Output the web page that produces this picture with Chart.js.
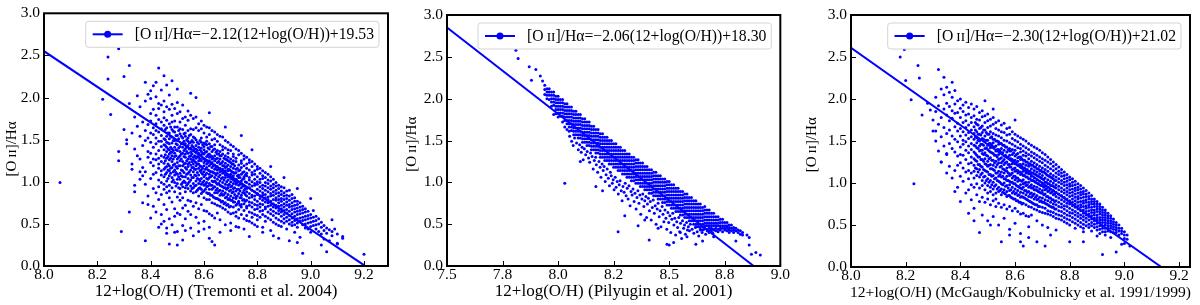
<!DOCTYPE html>
<html>
<head>
<meta charset="utf-8">
<script src="https://cdn.jsdelivr.net/npm/chart.js@4.4.1/dist/chart.umd.min.js"></script>
<style>
  body { margin: 0; background: #fff; width: 1200px; height: 305px; overflow: hidden; position: relative; }
  .panel { position: absolute; top: 0; height: 305px; }
</style>
</head>
<body>
<div class="panel" style="left:0;width:392px"><canvas id="chart-tremonti"></canvas></div>
<div class="panel" style="left:400px;width:390px"><canvas id="chart-pilyugin"></canvas></div>
<div class="panel" style="left:800px;width:400px"><canvas id="chart-mcgaugh"></canvas></div>
<script>
// tick values / labels
const yTicks = [0, 0.5, 1.0, 1.5, 2.0, 2.5, 3.0];
const tremontiTicks = [8.0, 8.2, 8.4, 8.6, 8.8, 9.0, 9.2];
const pilyuginTicks = [7.5, 7.75, 8.0, 8.25, 8.5, 8.75, 9.0];
const pilyuginTickLabels = ['7.5', '7.8', '8.0', '8.2', '8.5', '8.8', '9.0'];
const mcgaughTicks = [8.0, 8.2, 8.4, 8.6, 8.8, 9.0, 9.2];

const legendTexts = [
    '[O\u2009ɪɪ]/Hα=−2.12(12+log(O/H))+19.53',
    '[O\u2009ɪɪ]/Hα=−2.06(12+log(O/H))+18.30',
    '[O\u2009ɪɪ]/Hα=−2.30(12+log(O/H))+21.02',
];
const xTitles = [
    '12+log(O/H) (Tremonti et al. 2004)',
    '12+log(O/H) (Pilyugin et al. 2001)',
    '12+log(O/H) (McGaugh/Kobulnicky et al. 1991/1999)',
];
const yTitle = '[O\u2009ɪɪ]/Hα';

// fitted lines, end points
const tremontiFit = [[8.0, 2.55], [9.2, 0.01]];
const pilyuginFit = [[7.5, 2.85], [8.88, 0.0]];
const mcgaughFit = [[8.0, 2.61], [9.135, 0.0]];

// scatter, column form: [x, y, y, ...]
const tremontiCols = [
    [8.33, 1.58, 1.21], [8.34, 1.77, 1.39, 0.96], [8.35, 1.66, 1.31], [8.36, 1.89, 1.54, 1.27, 1.03],
    [8.37, 1.71, 1.43, 1.17, 0.75], [8.38, 1.96, 1.61, 1.49, 1.12, 0.97], [8.39, 2.04, 1.68, 1.52, 1.36, 1.29, 0.83],
    [8.40, 1.99, 1.81, 1.72, 1.58, 1.47, 1.34, 1.23, 1.04, 0.57],
    [8.41, 2.14, 1.86, 1.64, 1.56, 1.41, 1.27, 1.19, 1.09, 0.92, 0.71],
    [8.42, 2.01, 1.79, 1.69, 1.61, 1.52, 1.45, 1.33, 1.26, 1.11, 0.87, 0.64],
    [8.43, 1.93, 1.87, 1.74, 1.59, 1.48, 1.37, 1.28, 1.21, 1.16, 1.02, 0.94, 0.79, 0.46],
    [8.44, 2.09, 1.91, 1.71, 1.63, 1.55, 1.48, 1.42, 1.31, 1.24, 1.13, 1.08, 0.99, 0.85, 0.61],
    [8.45, 1.96, 1.83, 1.76, 1.67, 1.51, 1.44, 1.38, 1.29, 1.22, 1.15, 1.06, 0.97, 0.91, 0.73, 0.53],
    [8.46, 1.89, 1.73, 1.64, 1.54, 1.47, 1.41, 1.36, 1.28, 1.18, 1.11, 1.01, 0.94, 0.87, 0.67, 0.39],
    [8.47, 2.03, 1.86, 1.69, 1.58, 1.51, 1.45, 1.38, 1.33, 1.26, 1.19, 1.13, 1.07, 0.96, 0.89, 0.81, 0.56],
    [8.48, 1.92, 1.79, 1.71, 1.62, 1.53, 1.46, 1.39, 1.35, 1.31, 1.24, 1.17, 1.05, 1.00, 0.93, 0.76, 0.49],
    [8.49, 1.87, 1.72, 1.65, 1.59, 1.49, 1.41, 1.34, 1.30, 1.21, 1.14, 1.08, 0.99, 0.88, 0.68, 0.59],
    [8.50, 1.94, 1.81, 1.65, 1.55, 1.49, 1.44, 1.37, 1.27, 1.23, 1.16, 1.09, 1.03, 0.98, 0.82, 0.63, 0.41],
    [8.51, 1.83, 1.71, 1.63, 1.57, 1.42, 1.36, 1.31, 1.25, 1.19, 1.10, 1.03, 0.92, 0.86, 0.78, 0.61],
    [8.52, 1.91, 1.75, 1.62, 1.52, 1.46, 1.41, 1.34, 1.24, 1.19, 1.13, 1.06, 0.99, 0.94, 0.81, 0.69, 0.48],
    [8.53, 1.77, 1.67, 1.58, 1.54, 1.45, 1.39, 1.33, 1.29, 1.22, 1.17, 1.06, 0.99, 0.93, 0.88, 0.72, 0.56],
    [8.54, 1.84, 1.73, 1.61, 1.52, 1.48, 1.43, 1.34, 1.27, 1.21, 1.18, 1.10, 1.04, 0.98, 0.92, 0.78, 0.65],
    [8.55, 1.79, 1.63, 1.56, 1.47, 1.40, 1.35, 1.31, 1.27, 1.20, 1.14, 1.08, 1.02, 0.95, 0.89, 0.77, 0.61, 0.45],
    [8.56, 1.75, 1.62, 1.53, 1.47, 1.41, 1.37, 1.29, 1.26, 1.21, 1.17, 1.12, 1.05, 0.98, 0.93, 0.87, 0.71],
    [8.57, 1.77, 1.64, 1.50, 1.43, 1.39, 1.35, 1.28, 1.23, 1.19, 1.15, 1.07, 1.01, 0.96, 0.88, 0.75, 0.58],
    [8.58, 1.69, 1.61, 1.45, 1.41, 1.34, 1.29, 1.25, 1.21, 1.16, 1.08, 1.03, 0.98, 0.92, 0.83, 0.68, 0.51],
    [8.59, 1.72, 1.63, 1.52, 1.47, 1.40, 1.36, 1.32, 1.25, 1.18, 1.14, 1.11, 1.04, 0.97, 0.91, 0.86, 0.73],
    [8.60, 1.67, 1.58, 1.46, 1.42, 1.38, 1.33, 1.27, 1.23, 1.19, 1.12, 1.06, 1.01, 0.96, 0.89, 0.81, 0.66, 0.53],
    [8.61, 1.65, 1.53, 1.48, 1.44, 1.36, 1.30, 1.25, 1.21, 1.17, 1.10, 1.04, 0.99, 0.94, 0.87, 0.79, 0.65],
    [8.62, 1.64, 1.56, 1.45, 1.39, 1.33, 1.29, 1.25, 1.19, 1.13, 1.09, 1.05, 0.98, 0.91, 0.86, 0.79, 0.62, 0.46],
    [8.63, 1.61, 1.50, 1.42, 1.36, 1.30, 1.27, 1.23, 1.17, 1.12, 1.07, 1.01, 0.96, 0.91, 0.84, 0.75, 0.60],
    [8.64, 1.59, 1.51, 1.44, 1.39, 1.31, 1.25, 1.20, 1.15, 1.10, 1.05, 1.01, 0.94, 0.87, 0.81, 0.74, 0.57],
    [8.65, 1.56, 1.48, 1.37, 1.33, 1.28, 1.23, 1.18, 1.14, 1.10, 1.03, 0.97, 0.92, 0.87, 0.80, 0.72, 0.63],
    [8.66, 1.54, 1.44, 1.36, 1.31, 1.27, 1.21, 1.16, 1.12, 1.08, 1.01, 0.96, 0.90, 0.84, 0.78, 0.71, 0.55],
    [8.67, 1.53, 1.42, 1.38, 1.33, 1.24, 1.19, 1.15, 1.10, 1.05, 0.99, 0.94, 0.89, 0.84, 0.77, 0.69],
    [8.68, 1.49, 1.40, 1.31, 1.27, 1.22, 1.17, 1.13, 1.08, 1.05, 0.97, 0.93, 0.87, 0.81, 0.75, 0.67, 0.49],
    [8.69, 1.47, 1.38, 1.34, 1.29, 1.25, 1.20, 1.15, 1.13, 1.06, 1.02, 0.96, 0.93, 0.85, 0.79, 0.73, 0.64],
    [8.70, 1.44, 1.37, 1.27, 1.23, 1.18, 1.13, 1.09, 1.04, 1.00, 0.94, 0.90, 0.83, 0.78, 0.71, 0.62, 0.51],
    [8.71, 1.42, 1.33, 1.30, 1.25, 1.21, 1.16, 1.11, 1.07, 1.02, 0.98, 0.92, 0.88, 0.81, 0.76, 0.70, 0.63],
    [8.72, 1.39, 1.28, 1.24, 1.15, 1.11, 1.03, 0.99, 0.97, 0.89, 0.82, 0.80, 0.72, 0.64, 0.59],
    [8.73, 1.37, 1.32, 1.20, 1.13, 1.08, 1.05, 0.96, 0.91, 0.86, 0.77, 0.75, 0.67, 0.57, 0.46],
    [8.74, 1.34, 1.25, 1.22, 1.17, 1.09, 1.01, 0.98, 0.93, 0.84, 0.81, 0.73, 0.70, 0.61],
    [8.75, 1.31, 1.27, 1.19, 1.12, 1.06, 1.04, 0.95, 0.90, 0.87, 0.79, 0.74, 0.66, 0.56],
    [8.76, 1.29, 1.21, 1.16, 1.10, 1.07, 0.99, 0.92, 0.88, 0.83, 0.78, 0.71, 0.69, 0.60, 0.54],
    [8.77, 1.26, 1.23, 1.14, 1.05, 1.02, 0.97, 0.93, 0.86, 0.81, 0.76, 0.72, 0.64, 0.53],
    [8.78, 1.24, 1.18, 1.11, 1.08, 1.00, 0.95, 0.90, 0.84, 0.82, 0.75, 0.70, 0.63, 0.58, 0.51],
    [8.79, 1.21, 1.13, 1.09, 1.03, 0.98, 0.96, 0.88, 0.83, 0.79, 0.73, 0.67, 0.61, 0.49],
    [8.80, 1.18, 1.15, 1.06, 1.00, 0.97, 0.91, 0.86, 0.85, 0.77, 0.72, 0.68, 0.60, 0.55, 0.47],
    [8.81, 1.16, 1.10, 1.03, 0.99, 0.94, 0.89, 0.83, 0.80, 0.74, 0.70, 0.65, 0.58],
    [8.82, 1.13, 1.07, 1.04, 0.96, 0.92, 0.87, 0.84, 0.78, 0.73, 0.66, 0.61, 0.46],
    [8.83, 1.11, 1.05, 0.99, 0.95, 0.90, 0.85, 0.81, 0.76, 0.70, 0.68, 0.59, 0.53],
    [8.84, 1.09, 1.02, 0.98, 0.93, 0.88, 0.82, 0.79, 0.75, 0.71, 0.64, 0.57],
    [8.85, 1.06, 1.01, 0.95, 0.91, 0.86, 0.83, 0.77, 0.72, 0.67, 0.62, 0.55, 0.42],
    [8.86, 1.03, 0.97, 0.93, 0.88, 0.84, 0.79, 0.74, 0.70, 0.65, 0.60, 0.52],
    [8.87, 0.99, 0.95, 0.90, 0.86, 0.81, 0.78, 0.72, 0.69, 0.63, 0.57, 0.50],
    [8.88, 0.96, 0.92, 0.87, 0.83, 0.79, 0.75, 0.71, 0.66, 0.62, 0.55, 0.48],
    [8.89, 0.94, 0.89, 0.85, 0.80, 0.77, 0.72, 0.68, 0.64, 0.59, 0.53, 0.47],
    [8.90, 0.93, 0.87, 0.83, 0.79, 0.74, 0.70, 0.66, 0.61, 0.56, 0.51],
    [8.91, 0.89, 0.84, 0.80, 0.76, 0.72, 0.67, 0.63, 0.58, 0.53, 0.44],
    [8.92, 0.90, 0.83, 0.78, 0.73, 0.70, 0.65, 0.60, 0.55, 0.50],
    [8.93, 0.85, 0.80, 0.75, 0.71, 0.67, 0.62, 0.57, 0.52, 0.48],
    [8.94, 0.81, 0.77, 0.72, 0.68, 0.64, 0.59, 0.54, 0.49, 0.40],
    [8.95, 0.77, 0.73, 0.69, 0.65, 0.61, 0.56, 0.51, 0.46],
    [8.96, 0.75, 0.70, 0.66, 0.62, 0.57, 0.53, 0.34], [8.97, 0.71, 0.67, 0.63, 0.58, 0.54, 0.49],
    [8.98, 0.68, 0.64, 0.59, 0.55, 0.50, 0.45], [8.99, 0.65, 0.60, 0.56, 0.51, 0.44],
    [9.00, 0.61, 0.57, 0.52, 0.47, 0.40], [9.01, 0.66, 0.58, 0.53, 0.48], [9.02, 0.59, 0.54, 0.49, 0.44],
    [9.03, 0.56, 0.50, 0.41], [9.04, 0.52, 0.46, 0.38], [9.05, 0.48, 0.42, 0.32], [9.06, 0.45, 0.39],
    [9.07, 0.43, 0.30], [9.08, 0.41, 0.36], [9.09, 0.44], [9.10, 0.38, 0.26], [9.12, 0.33],
];
// the dense middle of the cloud, between the columns above
const tremontiCore = [
    [8.455, 1.62, 1.50, 1.43, 1.32, 1.25, 1.17, 1.09], [8.465, 1.58, 1.46, 1.39, 1.30, 1.21, 1.14, 1.04],
    [8.475, 1.65, 1.54, 1.41, 1.35, 1.28, 1.16, 1.10], [8.485, 1.60, 1.49, 1.37, 1.27, 1.20, 1.12, 1.02],
    [8.495, 1.55, 1.45, 1.38, 1.31, 1.18, 1.11, 0.95], [8.505, 1.61, 1.51, 1.40, 1.29, 1.19, 1.06, 0.93],
    [8.515, 1.54, 1.45, 1.33, 1.27, 1.14, 1.07, 0.97], [8.525, 1.57, 1.48, 1.37, 1.30, 1.21, 1.11, 1.01],
    [8.535, 1.50, 1.41, 1.36, 1.25, 1.15, 1.09, 0.96], [8.545, 1.55, 1.46, 1.39, 1.30, 1.23, 1.12, 1.00],
    [8.555, 1.49, 1.43, 1.33, 1.24, 1.17, 1.05, 0.92], [8.565, 1.52, 1.39, 1.31, 1.24, 1.15, 1.08, 0.95],
    [8.575, 1.47, 1.37, 1.30, 1.21, 1.11, 1.04, 0.90], [8.585, 1.49, 1.38, 1.27, 1.19, 1.13, 1.01, 0.93],
    [8.595, 1.44, 1.34, 1.28, 1.16, 1.09, 0.99, 0.88], [8.605, 1.45, 1.35, 1.25, 1.15, 1.08, 0.97, 0.91],
    [8.615, 1.40, 1.32, 1.23, 1.14, 1.03, 0.95, 0.86], [8.625, 1.42, 1.31, 1.21, 1.12, 1.06, 0.96, 0.84],
    [8.635, 1.38, 1.28, 1.19, 1.11, 1.00, 0.93, 0.82], [8.645, 1.35, 1.27, 1.17, 1.08, 0.99, 0.90, 0.80],
    [8.655, 1.33, 1.24, 1.15, 1.06, 0.98, 0.89, 0.79], [8.665, 1.31, 1.22, 1.13, 1.04, 0.95, 0.86, 0.76],
    [8.675, 1.28, 1.19, 1.11, 1.02, 0.93, 0.85, 0.74], [8.685, 1.26, 1.18, 1.08, 1.00, 0.91, 0.82, 0.72],
    [8.695, 1.24, 1.15, 1.06, 0.97, 0.89, 0.80, 0.70], [8.705, 1.21, 1.12, 1.04, 0.95, 0.87, 0.78],
    [8.715, 1.19, 1.10, 1.01, 0.93, 0.85, 0.76], [8.725, 1.16, 1.07, 0.99, 0.91, 0.83, 0.74],
    [8.735, 1.14, 1.05, 0.97, 0.89, 0.81, 0.72], [8.745, 1.11, 1.03, 0.95, 0.87, 0.78],
    [8.755, 1.08, 1.00, 0.92, 0.85, 0.77],
];
const tremontiExtra = [
    [8.06, 0.99], [8.22, 1.98], [8.24, 2.48], [8.24, 2.22], [8.25, 1.80], [8.28, 2.58], [8.28, 1.36], [8.28, 1.25],
    [8.29, 0.41], [8.30, 2.25], [8.30, 1.62], [8.31, 1.50], [8.31, 1.45], [8.32, 0.64], [8.32, 2.38], [8.33, 1.15],
    [8.32, 1.93], [8.34, 0.88], [8.35, 2.02], [8.36, 1.12], [8.37, 1.07], [8.38, 0.30], [8.38, 2.18], [8.39, 0.73],
    [8.40, 2.08], [8.42, 2.18], [8.43, 2.35], [8.45, 2.26], [8.48, 2.20], [8.47, 0.26], [8.50, 0.25], [8.52, 0.31],
    [8.57, 2.00], [8.62, 0.33], [8.63, 0.29], [8.64, 0.25], [8.77, 0.35], [8.78, 1.38], [8.97, 0.15], [9.06, 0.17],
    [9.10, 0.27], [9.12, 0.35], [9.20, 0.14], [8.44, 0.50], [8.46, 0.45], [8.49, 0.40], [8.53, 0.42], [8.56, 0.36],
    [8.58, 0.41], [8.60, 0.44], [8.66, 0.40], [8.70, 0.42], [8.72, 0.47], [8.75, 0.44], [8.82, 0.40], [8.86, 0.36],
    [8.88, 0.33], [8.92, 0.30], [8.95, 0.28], [9.04, 0.25], [8.55, 2.05], [8.50, 2.10], [8.46, 2.15], [8.62, 1.82],
    [8.68, 1.65], [8.74, 1.55], [8.85, 1.18], [8.90, 1.05], [8.95, 0.92], [9.00, 0.80], [9.08, 0.55],
];

// Pilyugin: solid upper band
const pilyuginCols = [
    [7.94, 2.16, 2.11, 2.05], [7.95, 2.12, 2.08, 2.04, 2.00], [7.96, 2.12, 2.08, 2.04, 1.99],
    [7.97, 2.08, 2.04, 2.00, 1.96, 1.91], [7.98, 2.08, 2.04, 2.00, 1.96, 1.92], [7.99, 2.03, 1.99, 1.95, 1.91, 1.87, 1.82],
    [8.00, 2.03, 1.99, 1.95, 1.91, 1.87, 1.83, 1.78], [8.01, 1.99, 1.95, 1.91, 1.87, 1.83, 1.79],
    [8.02, 1.99, 1.95, 1.91, 1.87, 1.83, 1.79, 1.72], [8.03, 1.94, 1.90, 1.86, 1.82, 1.78, 1.74, 1.66],
    [8.04, 1.94, 1.90, 1.86, 1.82, 1.78, 1.74, 1.70, 1.63], [8.05, 1.90, 1.86, 1.82, 1.78, 1.74, 1.70, 1.66, 1.61],
    [8.06, 1.90, 1.86, 1.82, 1.78, 1.74, 1.70, 1.66, 1.62], [8.07, 1.85, 1.81, 1.77, 1.73, 1.69, 1.65, 1.61, 1.57],
    [8.08, 1.85, 1.81, 1.77, 1.73, 1.69, 1.65, 1.61, 1.57], [8.09, 1.81, 1.77, 1.73, 1.69, 1.65, 1.61, 1.57, 1.53],
    [8.10, 1.81, 1.77, 1.73, 1.69, 1.65, 1.61, 1.57, 1.53], [8.11, 1.76, 1.72, 1.68, 1.64, 1.60, 1.56, 1.52, 1.48],
    [8.12, 1.76, 1.72, 1.68, 1.64, 1.60, 1.56, 1.52, 1.48], [8.13, 1.72, 1.68, 1.64, 1.60, 1.56, 1.52, 1.48, 1.44],
    [8.14, 1.72, 1.68, 1.64, 1.60, 1.56, 1.52, 1.48, 1.44], [8.15, 1.67, 1.63, 1.59, 1.55, 1.51, 1.47, 1.43, 1.39],
    [8.16, 1.67, 1.63, 1.59, 1.55, 1.51, 1.47, 1.43, 1.39], [8.17, 1.63, 1.59, 1.55, 1.51, 1.47, 1.43, 1.39, 1.35],
    [8.18, 1.63, 1.59, 1.55, 1.51, 1.47, 1.43, 1.39, 1.35], [8.19, 1.58, 1.54, 1.50, 1.46, 1.42, 1.38, 1.34, 1.30],
    [8.20, 1.58, 1.54, 1.50, 1.46, 1.42, 1.38, 1.34, 1.30], [8.21, 1.54, 1.50, 1.46, 1.42, 1.38, 1.34, 1.30, 1.26],
    [8.22, 1.54, 1.50, 1.46, 1.42, 1.38, 1.34, 1.30, 1.26], [8.23, 1.50, 1.46, 1.42, 1.38, 1.34, 1.30, 1.26, 1.22],
    [8.24, 1.50, 1.46, 1.42, 1.38, 1.34, 1.30, 1.26, 1.22], [8.25, 1.46, 1.42, 1.38, 1.34, 1.30, 1.26, 1.22, 1.18],
    [8.26, 1.46, 1.42, 1.38, 1.34, 1.30, 1.26, 1.22, 1.18], [8.27, 1.42, 1.38, 1.34, 1.30, 1.26, 1.22, 1.18, 1.14],
    [8.28, 1.42, 1.38, 1.34, 1.30, 1.26, 1.22, 1.18, 1.14], [8.29, 1.38, 1.34, 1.30, 1.26, 1.22, 1.18, 1.14, 1.10],
    [8.30, 1.38, 1.34, 1.30, 1.26, 1.22, 1.18, 1.14, 1.10], [8.31, 1.34, 1.30, 1.26, 1.22, 1.18, 1.14, 1.10, 1.06],
    [8.32, 1.34, 1.30, 1.26, 1.22, 1.18, 1.14, 1.10, 1.06], [8.33, 1.30, 1.26, 1.22, 1.18, 1.14, 1.10, 1.06, 1.02],
    [8.34, 1.30, 1.26, 1.22, 1.18, 1.14, 1.10, 1.06, 1.02], [8.35, 1.27, 1.23, 1.19, 1.15, 1.11, 1.07, 1.03, 0.99],
    [8.36, 1.27, 1.23, 1.19, 1.15, 1.11, 1.07, 1.03, 0.99], [8.37, 1.23, 1.19, 1.15, 1.11, 1.07, 1.03, 0.99, 0.95],
    [8.38, 1.23, 1.19, 1.15, 1.11, 1.07, 1.03, 0.99, 0.95], [8.39, 1.19, 1.15, 1.11, 1.07, 1.03, 0.99, 0.95, 0.91],
    [8.40, 1.19, 1.15, 1.11, 1.07, 1.03, 0.99, 0.95, 0.91], [8.41, 1.15, 1.11, 1.07, 1.03, 0.99, 0.95, 0.91, 0.87],
    [8.42, 1.15, 1.11, 1.07, 1.03, 0.99, 0.95, 0.91, 0.87], [8.43, 1.12, 1.08, 1.04, 1.00, 0.96, 0.92, 0.88, 0.84],
    [8.44, 1.12, 1.08, 1.04, 1.00, 0.96, 0.92, 0.88, 0.84], [8.45, 1.08, 1.04, 1.00, 0.96, 0.92, 0.88, 0.84, 0.80],
    [8.46, 1.08, 1.04, 1.00, 0.96, 0.92, 0.88, 0.84, 0.80], [8.47, 1.04, 1.00, 0.96, 0.92, 0.88, 0.84, 0.80, 0.76],
    [8.48, 1.04, 1.00, 0.96, 0.92, 0.88, 0.84, 0.80, 0.76], [8.49, 1.01, 0.97, 0.93, 0.89, 0.85, 0.81, 0.77, 0.73],
    [8.50, 1.01, 0.97, 0.93, 0.89, 0.85, 0.81, 0.77, 0.73], [8.51, 0.97, 0.93, 0.89, 0.85, 0.81, 0.77, 0.73, 0.69],
    [8.52, 0.97, 0.93, 0.89, 0.85, 0.81, 0.77, 0.73, 0.69], [8.53, 0.93, 0.89, 0.85, 0.81, 0.77, 0.73, 0.69, 0.65],
    [8.54, 0.93, 0.89, 0.85, 0.81, 0.77, 0.73, 0.69, 0.65], [8.55, 0.89, 0.85, 0.81, 0.77, 0.73, 0.69, 0.65, 0.61],
    [8.56, 0.89, 0.85, 0.81, 0.77, 0.73, 0.69, 0.65, 0.61], [8.57, 0.86, 0.82, 0.78, 0.74, 0.70, 0.66, 0.62, 0.58],
    [8.58, 0.86, 0.82, 0.78, 0.74, 0.70, 0.66, 0.62, 0.58], [8.59, 0.82, 0.78, 0.74, 0.70, 0.66, 0.62, 0.58, 0.54],
    [8.60, 0.82, 0.78, 0.74, 0.70, 0.66, 0.62, 0.58, 0.54], [8.61, 0.78, 0.74, 0.70, 0.66, 0.62, 0.58, 0.54, 0.50],
    [8.62, 0.78, 0.74, 0.70, 0.66, 0.62, 0.58, 0.54, 0.50, 0.47], [8.63, 0.74, 0.70, 0.66, 0.62, 0.58, 0.54, 0.50, 0.47],
    [8.64, 0.74, 0.70, 0.66, 0.62, 0.58, 0.54, 0.50, 0.47, 0.44], [8.65, 0.70, 0.66, 0.62, 0.58, 0.54, 0.50, 0.47, 0.43],
    [8.66, 0.71, 0.67, 0.63, 0.59, 0.55, 0.51, 0.48, 0.45], [8.67, 0.67, 0.63, 0.59, 0.55, 0.51, 0.48, 0.44],
    [8.68, 0.67, 0.63, 0.59, 0.55, 0.51, 0.48, 0.45, 0.42], [8.69, 0.63, 0.59, 0.55, 0.51, 0.48, 0.45, 0.41],
    [8.70, 0.63, 0.59, 0.55, 0.51, 0.48, 0.44, 0.43], [8.71, 0.59, 0.55, 0.51, 0.48, 0.45, 0.42],
    [8.72, 0.59, 0.55, 0.51, 0.48, 0.44, 0.41], [8.73, 0.56, 0.52, 0.48, 0.45, 0.43], [8.74, 0.56, 0.52, 0.48, 0.45, 0.41],
    [8.75, 0.52, 0.48, 0.45, 0.43], [8.76, 0.52, 0.48, 0.45, 0.42], [8.77, 0.49, 0.46, 0.43, 0.40],
    [8.78, 0.49, 0.45, 0.42], [8.79, 0.46, 0.43, 0.40], [8.80, 0.45, 0.42], [8.81, 0.43, 0.40],
    [8.82, 0.42, 0.38], [8.83, 0.40, 0.37], [8.85, 0.37], [8.86, 0.34],
];
// Pilyugin: looser points under the band
const pilyuginExtra = [
    [7.81, 2.58], [7.82, 2.48], [7.87, 2.38], [7.88, 2.22], [7.90, 2.35], [7.92, 2.27], [7.93, 2.21], [7.98, 1.81],
    [8.03, 0.99], [8.10, 1.25], [8.17, 0.95], [8.20, 0.90], [8.27, 0.41], [8.30, 0.60], [8.36, 0.48], [8.39, 0.55],
    [8.41, 0.31], [8.45, 0.45], [8.49, 0.26], [8.50, 0.25], [8.52, 0.28], [8.55, 0.40], [8.58, 0.35], [8.62, 0.26],
    [8.65, 0.30], [8.70, 0.35], [8.80, 0.30], [8.86, 0.25], [8.87, 0.14], [8.89, 0.16], [8.91, 0.13],
    [8.052, 1.55], [8.061, 1.49], [8.068, 1.44], [8.074, 1.53], [8.083, 1.47], [8.091, 1.39], [8.097, 1.45],
    [8.104, 1.36], [8.108, 1.42], [8.113, 1.27], [8.118, 1.40], [8.124, 1.33], [8.131, 1.37], [8.137, 1.29],
    [8.142, 1.24], [8.146, 1.35], [8.153, 1.31], [8.158, 1.16], [8.163, 1.26], [8.169, 1.30], [8.172, 1.21],
    [8.178, 1.12], [8.184, 1.25], [8.189, 1.18], [8.193, 1.06], [8.198, 1.22], [8.203, 1.14], [8.207, 1.19],
    [8.212, 1.01], [8.216, 1.09], [8.221, 1.16], [8.226, 1.05], [8.231, 0.96], [8.235, 1.12], [8.239, 1.08],
    [8.244, 0.99], [8.248, 1.03], [8.252, 0.91], [8.257, 1.06], [8.261, 0.94], [8.266, 1.01], [8.271, 0.86],
    [8.275, 0.97], [8.279, 1.02], [8.284, 0.90], [8.288, 0.78], [8.292, 0.95], [8.297, 0.88], [8.302, 0.99],
    [8.306, 0.84], [8.311, 0.93], [8.315, 0.80], [8.319, 0.96], [8.324, 0.72], [8.328, 0.89], [8.333, 0.85],
    [8.337, 0.92], [8.342, 0.77], [8.346, 0.87], [8.351, 0.68], [8.355, 0.82], [8.359, 0.90], [8.364, 0.75],
    [8.368, 0.85], [8.372, 0.62], [8.377, 0.80], [8.381, 0.86], [8.386, 0.71], [8.390, 0.78], [8.395, 0.83],
    [8.398, 0.58], [8.402, 0.74], [8.406, 0.81], [8.411, 0.66], [8.415, 0.77], [8.419, 0.55], [8.424, 0.70],
    [8.428, 0.79], [8.433, 0.63], [8.437, 0.72], [8.441, 0.50], [8.446, 0.68], [8.450, 0.75], [8.455, 0.59],
    [8.459, 0.66], [8.463, 0.47], [8.468, 0.71], [8.472, 0.62], [8.476, 0.53], [8.481, 0.67], [8.485, 0.57],
    [8.489, 0.44], [8.494, 0.64], [8.498, 0.52], [8.503, 0.60], [8.507, 0.40], [8.512, 0.56], [8.516, 0.63],
    [8.521, 0.49], [8.525, 0.57], [8.529, 0.37], [8.534, 0.53], [8.538, 0.46], [8.543, 0.58], [8.547, 0.41],
    [8.551, 0.51], [8.556, 0.33], [8.560, 0.54], [8.565, 0.45], [8.569, 0.49], [8.573, 0.38], [8.578, 0.52],
    [8.582, 0.43], [8.586, 0.47], [8.591, 0.42], [8.595, 0.50], [8.603, 0.44], [8.611, 0.39], [8.618, 0.46],
    [8.626, 0.41], [8.633, 0.36], [8.641, 0.43], [8.648, 0.40], [8.656, 0.44], [8.664, 0.38], [8.671, 0.42],
    [8.679, 0.40], [8.688, 0.43], [8.696, 0.39],
];

const mcgaughCols = [
    [8.30, 1.75, 1.62], [8.31, 2.02, 1.85, 1.50], [8.32, 1.92, 1.70, 1.38], [8.33, 2.12, 1.78, 1.55, 1.25],
    [8.34, 2.05, 1.88, 1.66, 1.44], [8.35, 2.14, 1.95, 1.81, 1.59, 1.35, 1.12], [8.36, 2.08, 1.91, 1.74, 1.63, 1.47, 1.20],
    [8.37, 2.02, 1.86, 1.77, 1.56, 1.41, 1.06], [8.38, 2.10, 1.94, 1.83, 1.67, 1.52, 1.37, 1.15],
    [8.39, 1.98, 1.84, 1.71, 1.62, 1.49, 1.32, 1.21, 0.95],
    [8.40, 2.00, 1.89, 1.78, 1.65, 1.56, 1.43, 1.34, 1.24, 1.08],
    [8.41, 1.93, 1.85, 1.72, 1.61, 1.51, 1.46, 1.33, 1.18, 1.02],
    [8.42, 1.96, 1.81, 1.74, 1.66, 1.57, 1.49, 1.39, 1.28, 1.13, 0.88],
    [8.43, 1.90, 1.82, 1.69, 1.60, 1.53, 1.44, 1.36, 1.23, 1.15, 1.05, 0.92],
    [8.44, 1.94, 1.78, 1.72, 1.63, 1.55, 1.47, 1.40, 1.31, 1.24, 1.12, 0.98, 0.80],
    [8.45, 1.88, 1.80, 1.67, 1.59, 1.52, 1.45, 1.37, 1.29, 1.21, 1.14, 1.06, 0.95, 0.70],
    [8.46, 1.91, 1.76, 1.70, 1.61, 1.54, 1.48, 1.42, 1.33, 1.26, 1.17, 1.09, 0.99, 0.86],
    [8.47, 1.84, 1.75, 1.65, 1.58, 1.50, 1.44, 1.38, 1.31, 1.22, 1.16, 1.07, 0.94, 0.78],
    [8.48, 1.86, 1.79, 1.68, 1.60, 1.53, 1.46, 1.39, 1.35, 1.28, 1.19, 1.12, 1.03, 0.97, 0.83, 0.62],
    [8.49, 1.80, 1.72, 1.63, 1.56, 1.49, 1.41, 1.36, 1.29, 1.23, 1.15, 1.08, 1.00, 0.92, 0.77],
    [8.50, 1.82, 1.74, 1.66, 1.58, 1.51, 1.45, 1.40, 1.32, 1.26, 1.20, 1.13, 1.05, 0.97, 0.88, 0.81, 0.55],
    [8.51, 1.76, 1.68, 1.61, 1.54, 1.47, 1.42, 1.37, 1.30, 1.22, 1.17, 1.10, 1.03, 0.95, 0.90, 0.74],
    [8.52, 1.78, 1.70, 1.59, 1.52, 1.48, 1.43, 1.35, 1.27, 1.21, 1.16, 1.09, 1.01, 0.93, 0.86, 0.79, 0.60],
    [8.53, 1.72, 1.65, 1.57, 1.50, 1.44, 1.38, 1.33, 1.26, 1.19, 1.12, 1.06, 0.98, 0.88, 0.81, 0.72],
    [8.54, 1.74, 1.63, 1.56, 1.49, 1.46, 1.40, 1.34, 1.28, 1.24, 1.14, 1.08, 1.02, 0.95, 0.90, 0.76, 0.50],
    [8.55, 1.69, 1.61, 1.54, 1.47, 1.41, 1.36, 1.30, 1.24, 1.20, 1.13, 1.07, 0.99, 0.93, 0.86, 0.71],
    [8.56, 1.71, 1.60, 1.51, 1.45, 1.39, 1.32, 1.28, 1.22, 1.16, 1.12, 1.05, 1.00, 0.92, 0.88, 0.74, 0.58],
    [8.57, 1.65, 1.57, 1.50, 1.43, 1.37, 1.31, 1.25, 1.18, 1.14, 1.08, 1.03, 0.97, 0.90, 0.84, 0.69],
    [8.58, 1.66, 1.58, 1.48, 1.41, 1.38, 1.33, 1.29, 1.22, 1.19, 1.11, 1.09, 1.02, 0.98, 0.91, 0.85, 0.72, 0.45],
    [8.59, 1.61, 1.53, 1.46, 1.40, 1.34, 1.28, 1.23, 1.16, 1.12, 1.06, 1.01, 0.95, 0.88, 0.82, 0.67],
    [8.60, 1.58, 1.51, 1.44, 1.39, 1.32, 1.27, 1.23, 1.18, 1.14, 1.08, 1.04, 0.99, 0.93, 0.87, 0.81, 0.70, 0.52],
    [8.61, 1.56, 1.49, 1.42, 1.35, 1.30, 1.26, 1.21, 1.15, 1.12, 1.06, 1.02, 0.96, 0.91, 0.85, 0.79, 0.66],
    [8.62, 1.54, 1.46, 1.41, 1.37, 1.31, 1.28, 1.22, 1.19, 1.13, 1.10, 1.03, 0.98, 0.94, 0.89, 0.83, 0.77, 0.63, 0.40],
    [8.63, 1.52, 1.44, 1.38, 1.33, 1.27, 1.23, 1.18, 1.14, 1.09, 1.04, 0.99, 0.95, 0.88, 0.83, 0.76, 0.64],
    [8.64, 1.50, 1.42, 1.36, 1.32, 1.25, 1.21, 1.16, 1.12, 1.07, 1.01, 0.97, 0.91, 0.86, 0.81, 0.74, 0.61],
    [8.65, 1.47, 1.40, 1.34, 1.29, 1.23, 1.20, 1.14, 1.11, 1.05, 1.01, 0.95, 0.90, 0.84, 0.79, 0.72, 0.60, 0.48],
    [8.66, 1.45, 1.37, 1.32, 1.26, 1.21, 1.17, 1.12, 1.08, 1.03, 0.98, 0.94, 0.88, 0.83, 0.77, 0.71, 0.62],
    [8.67, 1.43, 1.35, 1.30, 1.24, 1.19, 1.15, 1.11, 1.06, 1.02, 0.96, 0.92, 0.87, 0.81, 0.75, 0.69],
    [8.68, 1.41, 1.33, 1.28, 1.22, 1.17, 1.13, 1.09, 1.04, 1.00, 0.95, 0.91, 0.85, 0.80, 0.74, 0.68, 0.55],
    [8.69, 1.39, 1.31, 1.26, 1.20, 1.15, 1.11, 1.07, 1.02, 0.98, 0.93, 0.89, 0.83, 0.78, 0.72, 0.66],
    [8.70, 1.36, 1.29, 1.24, 1.18, 1.13, 1.09, 1.05, 1.00, 0.97, 0.91, 0.88, 0.82, 0.77, 0.71, 0.65, 0.50],
    [8.71, 1.34, 1.27, 1.21, 1.16, 1.12, 1.06, 1.01, 0.96, 0.92, 0.87, 0.80, 0.76, 0.70, 0.64],
    [8.72, 1.31, 1.25, 1.19, 1.14, 1.09, 1.04, 0.99, 0.95, 0.90, 0.84, 0.79, 0.74, 0.67, 0.63, 0.47],
    [8.73, 1.28, 1.23, 1.17, 1.11, 1.07, 1.02, 0.97, 0.93, 0.88, 0.82, 0.77, 0.72, 0.66, 0.62],
    [8.74, 1.25, 1.20, 1.15, 1.09, 1.05, 1.00, 0.96, 0.91, 0.86, 0.80, 0.75, 0.71, 0.65, 0.60],
    [8.75, 1.22, 1.17, 1.12, 1.07, 1.03, 0.98, 0.94, 0.89, 0.84, 0.79, 0.74, 0.69, 0.63, 0.58, 0.44],
    [8.76, 1.19, 1.14, 1.10, 1.05, 1.01, 0.96, 0.92, 0.87, 0.82, 0.77, 0.72, 0.67, 0.62, 0.57],
    [8.77, 1.16, 1.12, 1.08, 1.03, 0.99, 0.94, 0.90, 0.85, 0.80, 0.75, 0.71, 0.66, 0.61, 0.56],
    [8.78, 1.13, 1.09, 1.05, 1.01, 0.97, 0.92, 0.88, 0.83, 0.78, 0.73, 0.69, 0.64, 0.59, 0.54],
    [8.79, 1.10, 1.06, 1.02, 0.98, 0.94, 0.90, 0.86, 0.81, 0.76, 0.72, 0.67, 0.62, 0.57, 0.52],
    [8.80, 1.07, 1.04, 0.99, 0.96, 0.92, 0.88, 0.84, 0.79, 0.75, 0.70, 0.65, 0.61, 0.56, 0.50],
    [8.81, 1.05, 1.01, 0.97, 0.93, 0.89, 0.85, 0.81, 0.77, 0.73, 0.68, 0.64, 0.59, 0.54],
    [8.82, 1.02, 0.98, 0.94, 0.91, 0.87, 0.83, 0.79, 0.75, 0.71, 0.66, 0.62, 0.57, 0.52, 0.46],
    [8.83, 0.99, 0.95, 0.92, 0.88, 0.84, 0.81, 0.77, 0.73, 0.69, 0.64, 0.60, 0.55, 0.50],
    [8.84, 0.97, 0.93, 0.89, 0.86, 0.82, 0.78, 0.74, 0.71, 0.67, 0.62, 0.58, 0.53, 0.48],
    [8.85, 0.94, 0.90, 0.87, 0.83, 0.79, 0.76, 0.72, 0.68, 0.64, 0.60, 0.56, 0.51, 0.46, 0.42],
    [8.86, 0.91, 0.87, 0.84, 0.80, 0.77, 0.73, 0.70, 0.66, 0.62, 0.58, 0.54, 0.49],
    [8.87, 0.88, 0.84, 0.81, 0.77, 0.74, 0.71, 0.67, 0.63, 0.60, 0.56, 0.51, 0.47],
    [8.88, 0.85, 0.81, 0.78, 0.75, 0.71, 0.68, 0.65, 0.61, 0.57, 0.53, 0.49, 0.43],
    [8.89, 0.81, 0.78, 0.75, 0.72, 0.68, 0.65, 0.62, 0.58, 0.55, 0.51, 0.47],
    [8.90, 0.78, 0.75, 0.72, 0.69, 0.66, 0.62, 0.59, 0.56, 0.52, 0.48, 0.44, 0.37],
    [8.91, 0.75, 0.72, 0.69, 0.66, 0.63, 0.59, 0.56, 0.53, 0.49, 0.45, 0.40],
    [8.92, 0.71, 0.68, 0.65, 0.62, 0.59, 0.56, 0.53, 0.49, 0.46, 0.42],
    [8.93, 0.68, 0.65, 0.62, 0.59, 0.56, 0.53, 0.50, 0.46, 0.42, 0.38],
    [8.94, 0.64, 0.61, 0.58, 0.55, 0.52, 0.49, 0.46, 0.43],
    [8.95, 0.61, 0.58, 0.55, 0.52, 0.49, 0.46, 0.42, 0.35],
    [8.96, 0.57, 0.54, 0.51, 0.48, 0.45, 0.41], [8.97, 0.53, 0.50, 0.47, 0.44, 0.41],
    [8.98, 0.50, 0.46, 0.43, 0.38], [8.99, 0.46, 0.43, 0.40], [9.00, 0.42, 0.38, 0.34, 0.28], [9.01, 0.38, 0.33],
];
const mcgaughCore = [
    [8.455, 1.72, 1.63, 1.55, 1.44, 1.35, 1.27, 1.18], [8.465, 1.69, 1.58, 1.51, 1.41, 1.31, 1.22, 1.13],
    [8.475, 1.66, 1.57, 1.46, 1.39, 1.28, 1.20, 1.10], [8.485, 1.63, 1.52, 1.45, 1.34, 1.26, 1.16, 1.07],
    [8.495, 1.60, 1.51, 1.42, 1.33, 1.22, 1.14, 1.03], [8.505, 1.58, 1.47, 1.38, 1.29, 1.21, 1.10, 1.01],
    [8.515, 1.55, 1.45, 1.36, 1.27, 1.17, 1.08, 0.98], [8.525, 1.52, 1.43, 1.33, 1.24, 1.15, 1.05, 0.96],
    [8.535, 1.50, 1.40, 1.31, 1.22, 1.12, 1.03, 0.93], [8.545, 1.47, 1.38, 1.29, 1.19, 1.10, 1.01, 0.91],
    [8.555, 1.45, 1.36, 1.26, 1.17, 1.08, 0.98, 0.89], [8.565, 1.43, 1.33, 1.24, 1.15, 1.05, 0.96, 0.87],
    [8.575, 1.40, 1.31, 1.22, 1.12, 1.03, 0.94, 0.85], [8.585, 1.38, 1.29, 1.19, 1.10, 1.01, 0.92, 0.83],
    [8.595, 1.36, 1.26, 1.17, 1.08, 0.99, 0.90, 0.81], [8.605, 1.34, 1.24, 1.15, 1.06, 0.97, 0.88, 0.79],
    [8.615, 1.31, 1.22, 1.13, 1.04, 0.95, 0.86, 0.77], [8.625, 1.29, 1.20, 1.11, 1.02, 0.93, 0.84, 0.75],
    [8.635, 1.27, 1.18, 1.09, 1.00, 0.91, 0.82], [8.645, 1.25, 1.16, 1.07, 0.98, 0.89, 0.80],
    [8.655, 1.23, 1.14, 1.05, 0.96, 0.87, 0.78], [8.665, 1.21, 1.12, 1.03, 0.94, 0.85, 0.76],
    [8.675, 1.19, 1.10, 1.01, 0.92, 0.83, 0.74], [8.685, 1.17, 1.08, 0.99, 0.90, 0.81, 0.72],
    [8.695, 1.15, 1.06, 0.97, 0.88, 0.79], [8.705, 1.13, 1.04, 0.95, 0.86, 0.77],
    [8.715, 1.10, 1.01, 0.93, 0.84, 0.75], [8.725, 1.08, 0.99, 0.91, 0.82, 0.73],
    [8.735, 1.06, 0.97, 0.89, 0.80, 0.71], [8.745, 1.03, 0.95, 0.87, 0.78, 0.69],
];
const mcgaughExtra = [
    [8.16, 2.75], [8.18, 2.50], [8.195, 2.59], [8.20, 2.22], [8.22, 1.99], [8.23, 0.99], [8.245, 2.40], [8.25, 2.25],
    [8.26, 1.81], [8.28, 1.95], [8.29, 1.87], [8.32, 2.35], [8.34, 2.26], [8.37, 2.20], [8.31, 1.62], [8.33, 1.25],
    [8.35, 1.34], [8.38, 0.90], [8.40, 0.78], [8.43, 0.64], [8.45, 0.55], [8.47, 0.41], [8.51, 0.50], [8.55, 0.30],
    [8.58, 0.38], [8.62, 0.30], [8.63, 0.25], [8.65, 0.35], [8.68, 0.30], [8.71, 0.25], [8.73, 0.38], [8.80, 0.30],
    [8.85, 0.30], [8.92, 0.15], [8.97, 0.18], [8.99, 0.27], [9.02, 0.25], [8.49, 1.98], [8.52, 1.88], [8.60, 1.75],
];

const blue = '#0000ff';
const serif = '"Liberation Serif", "DejaVu Serif", serif';
Chart.defaults.color = '#000';
Chart.defaults.font.family = serif;

const toPoints = (cols, extra) => cols
    .flatMap(([x, ...ys]) => ys.map(y => ({ x, y })))
    .concat(extra.map(([x, y]) => ({ x, y })));

// inward ticks + black frame, as matplotlib draws them
const frameTicks = {
    id: 'frameTicks',
    afterDatasetsDraw(chart) {
        const { ctx, chartArea: a, scales: { x, y } } = chart;
        ctx.save();
        ctx.strokeStyle = '#000';
        ctx.lineWidth = 1;
        ctx.beginPath();
        x.ticks.forEach(t => {
            const px = Math.round(x.getPixelForValue(t.value)) + 0.5;
            ctx.moveTo(px, a.bottom);
            ctx.lineTo(px, a.bottom - 5);
        });
        y.ticks.forEach(t => {
            const py = Math.round(y.getPixelForValue(t.value)) + 0.5;
            ctx.moveTo(a.left, py);
            ctx.lineTo(a.left + 5, py);
        });
        ctx.stroke();
        ctx.lineWidth = 2;
        ctx.strokeRect(a.left, a.top, a.right - a.left, a.bottom - a.top);
        ctx.restore();
    },
};

// x label may run wider than the axes (third panel), so it is drawn unclamped
const xLabel = {
    id: 'xLabel',
    afterDraw(chart, args, opts) {
        const { ctx, chartArea: a } = chart;
        ctx.save();
        ctx.font = opts.size + 'px ' + serif;
        ctx.fillStyle = '#000';
        ctx.textAlign = 'center';
        ctx.textBaseline = 'middle';
        ctx.fillText(opts.text, (a.left + a.right) / 2, a.bottom + 26);
        ctx.restore();
    },
};

// legend box inside the upper right corner of the axes
const insetLegend = {
    id: 'insetLegend',
    afterDatasetsDraw(chart, args, opts) {
        const { ctx, chartArea: a } = chart;
        ctx.save();
        ctx.font = '15.7px ' + serif;
        const tw = ctx.measureText(opts.text).width;
        const right = a.right - 9;
        const top = a.top + 8;
        const h = 26;
        const cy = top + h / 2;
        const textX = right - 5 - tw;
        const lineR = textX - 12;
        const lineL = lineR - 30;
        const left = lineL - 7;
        ctx.beginPath();
        ctx.roundRect(left, top, right - left, h, 3);
        ctx.fillStyle = 'rgba(255,255,255,0.85)';
        ctx.fill();
        ctx.strokeStyle = '#d4d4d4';
        ctx.lineWidth = 1;
        ctx.stroke();
        ctx.strokeStyle = blue;
        ctx.lineWidth = 2;
        ctx.beginPath();
        ctx.moveTo(lineL, cy);
        ctx.lineTo(lineR, cy);
        ctx.stroke();
        ctx.fillStyle = blue;
        ctx.beginPath();
        ctx.arc((lineL + lineR) / 2, cy, 3.5, 0, Math.PI * 2);
        ctx.fill();
        ctx.fillStyle = '#000';
        ctx.textBaseline = 'middle';
        ctx.fillText(opts.text, textX, cy + 1);
        ctx.restore();
    },
};

function makePanel(id, p) {
    new Chart(document.getElementById(id), {
        data: {
            datasets: [
                {
                    type: 'line',
                    data: p.fit.map(([x, y]) => ({ x, y })),
                    borderColor: blue,
                    borderWidth: 2,
                    pointRadius: 0,
                },
                {
                    type: 'scatter',
                    data: toPoints(p.cols, p.extra),
                    backgroundColor: blue,
                    pointRadius: 1.5,
                    pointBorderWidth: 0,
                },
            ],
        },
        options: {
            responsive: true,
            maintainAspectRatio: false,
            animation: false,
            layout: { padding: { top: p.top, right: p.right, left: 0, bottom: 0 } },
            scales: {
                x: {
                    type: 'linear',
                    min: p.xMin,
                    max: p.xMax,
                    afterFit: s => { s.height = p.xh; },
                    afterBuildTicks: s => { s.ticks = p.ticks.map(value => ({ value })); },
                    ticks: {
                        padding: 0,
                        font: { size: 15.5 },
                        callback: (v, i) => p.tickLabels ? p.tickLabels[i] : v.toFixed(1),
                    },
                    grid: { display: false, drawTicks: false },
                    border: { display: false },
                },
                y: {
                    type: 'linear',
                    min: 0,
                    max: 3,
                    afterFit: s => { s.width = p.yw; },
                    afterBuildTicks: s => { s.ticks = yTicks.map(value => ({ value })); },
                    ticks: { padding: 4, font: { size: 15.5 }, callback: v => v.toFixed(1) },
                    grid: { display: false, drawTicks: false },
                    border: { display: false },
                    title: {
                        display: true,
                        text: yTitle + '\u00a0'.repeat(p.yShift),
                        font: { size: 15 },
                        padding: { top: 3, bottom: 0 },
                    },
                },
            },
            plugins: {
                legend: { display: false },
                tooltip: { enabled: false },
                insetLegend: { text: p.legend },
                xLabel: { text: p.xTitle, size: p.xTitleSize },
            },
        },
        plugins: [frameTicks, insetLegend, xLabel],
    });
}

makePanel('chart-tremonti', {
    fit: tremontiFit, cols: tremontiCols.concat(tremontiCore), extra: tremontiExtra,
    xMin: 8.0, xMax: 9.29, ticks: tremontiTicks,
    top: 6, right: 2, xh: 39, yw: 44, yShift: 5,
    xTitle: xTitles[0], xTitleSize: 17, legend: legendTexts[0],
});
makePanel('chart-pilyugin', {
    fit: pilyuginFit, cols: pilyuginCols, extra: pilyuginExtra,
    xMin: 7.5, xMax: 9.0, ticks: pilyuginTicks, tickLabels: pilyuginTickLabels,
    top: 15, right: 2, xh: 39, yw: 47, yShift: 2,
    xTitle: xTitles[1], xTitleSize: 17, legend: legendTexts[1],
});
makePanel('chart-mcgaugh', {
    fit: mcgaughFit, cols: mcgaughCols.concat(mcgaughCore), extra: mcgaughExtra,
    xMin: 8.0, xMax: 9.24, ticks: mcgaughTicks,
    top: 15, right: 10, xh: 38, yw: 51, yShift: 2,
    xTitle: xTitles[2], xTitleSize: 15.6, legend: legendTexts[2],
});
</script>
</body>
</html>
